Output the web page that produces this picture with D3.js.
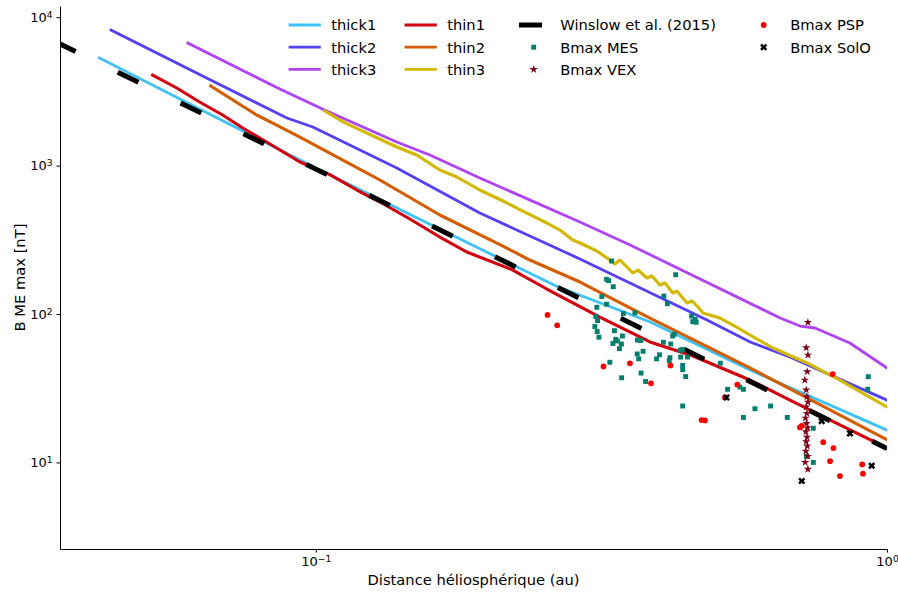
<!DOCTYPE html>
<html><head><meta charset="utf-8">
<script src="https://cdn.jsdelivr.net/npm/d3@7"></script>
<style>body{margin:0;background:#fff} text{font-family:"DejaVu Sans",sans-serif;fill:#000}</style>
</head><body><svg id="c" width="898" height="592"></svg>
<script>
// ---------- data (distance in au, field in nT) ----------
const thick1R = [0.0418, 0.0626, 0.0938, 0.158, 0.264, 0.385, 0.576, 1.0];
const thick1B = [5311, 2407, 1091, 404, 154, 88.3, 41.9, 16.5];
const thick2R = [0.0438, 0.0626, 0.0890, 0.0988, 0.1386, 0.1937, 0.290, 0.484, 0.576, 0.676, 1.0];
const thick2B = [8197, 4111, 2094, 1820, 963, 479, 235, 91.1, 64.8, 51.3, 26.3];
const thick3R = [0.0597, 0.0865, 0.1045, 0.1386, 0.1584, 0.1937, 0.290, 0.355, 0.650, 0.704, 0.748, 0.861, 1.0];
const thick3B = [6700, 3282, 2333, 1442, 1179, 825, 417, 292, 94.0, 83.0, 80.5, 63.8, 43.3];
const thin1R = [0.0518, 0.0571, 0.0626, 0.0687, 0.0745, 0.0798, 0.0854, 0.0938, 0.1058, 0.1180, 0.1295, 0.1461, 0.1649, 0.1838, 0.2213, 0.2538, 0.3143, 0.3846, 0.4573, 0.5755, 0.6763, 0.8272, 1.0];
const thin1B = [4079, 3334, 2683, 2193, 1792, 1535, 1314, 1058, 870, 684.8, 568.5, 436.8, 330.2, 261.7, 197.9, 147.4, 95.4, 64.8, 52.1, 35.9, 26.3, 17.9, 12.5];
const thin2R = [0.0655, 0.0716, 0.0788, 0.0854, 0.0938, 0.1058, 0.1295, 0.1649, 0.2075, 0.2370, 0.2901, 0.3846, 0.5755, 0.7041, 1.0];
const thin2B = [3439, 2767, 2193, 1877, 1558, 1216, 800, 464.8, 300.9, 231.2, 164.3, 94.0, 43.3, 28.9, 14.2];
const thin3R = [0.1037, 0.1102, 0.1147, 0.1386, 0.1502, 0.1649, 0.1766, 0.1937, 0.2075, 0.2249, 0.2342, 0.2538, 0.2676, 0.2818, 0.2901, 0.3105, 0.3272, 0.3340, 0.3407, 0.3590, 0.3664, 0.3800, 0.3877, 0.4004, 0.4085, 0.4219, 0.4288, 0.4465, 0.4556, 0.4667, 0.4762, 0.5099, 0.5375, 0.5755, 0.6315, 0.7244, 0.8272, 1.0];
const thin3B = [2333, 2029, 1877, 1335, 1179, 934, 838, 685, 605, 518, 479, 410.5, 368.1, 315.2, 300.9, 265.8, 231.2, 217.3, 231.2, 188.9, 197.9, 174.8, 180.3, 156.8, 161.8, 138.5, 142.9, 118.6, 122.4, 111.5, 101.6, 94.0, 84.3, 72.2, 59.0, 46.8, 35.9, 23.6];
const winslowR = [0.0357, 0.1, 1.0];
const winslowB = [6600, 947, 12.4];

const mesR = [0.3295,0.3229,0.3256,0.3317,0.4266,0.3168,0.3229,0.3105,0.3092,0.3114,0.3080,0.3109,0.3131,0.3333,0.3456,0.3620,0.3442,0.3350,0.3313,0.3373,0.3428,0.3401,0.3272,0.3431,0.3656,0.3704,0.3653,0.3741,0.3675,0.3711,0.3779,0.4068,0.4126,0.4060,0.4182,0.3997,0.3950,0.4169,0.4157,0.4242,0.4215,0.4348,0.4383,0.4352,0.4474,0.4388,0.4389,0.4442,0.4388,0.4550,0.4570,0.4634,0.4616,0.5107,0.5260,0.5606,0.5527,0.5606,0.5872,0.6254,0.6690,0.7430,0.7228,0.7430,0.9274,0.9252];
const mesB = [227.6,171.3,167.6,152.8,184.0,131.2,116.4,111.0,96.2,90.4,82.4,76.2,69.8,77.2,100.8,101.6,71.1,67.5,63.3,65.8,62.8,58.4,47.3,37.2,66.8,66.3,53.8,56.1,49.9,40.0,35.1,132.2,117.3,64.5,62.8,53.1,49.9,50.8,48.5,73.1,71.1,57.0,57.6,51.3,51.3,45.1,42.2,37.9,24.0,96.9,88.8,88.0,92.1,46.6,31.1,31.1,32.2,20.1,23.0,24.0,20.1,17.0,11.0,10.0,37.8,31.1];
const vexR = [0.727, 0.722, 0.727, 0.725, 0.718, 0.722, 0.724, 0.727, 0.722, 0.724, 0.720, 0.723, 0.726, 0.721, 0.724, 0.722, 0.725, 0.721, 0.727, 0.719, 0.727];
const vexB = [87.9, 59.3, 52.9, 40.9, 35.9, 30.8, 27.7, 25.5, 23.7, 21.4, 19.9, 18.3, 17.1, 16.1, 14.8, 13.8, 12.9, 11.9, 11.0, 10.0, 9.0];
const pspR = [0.2545, 0.2646, 0.3189, 0.3548, 0.3862, 0.4177, 0.4737, 0.4800, 0.5469, 0.5203, 0.7041, 0.7091, 0.7733, 0.8058, 0.7949, 0.8272, 0.9048, 0.9078, 0.8033];
const pspB = [98.5, 83.9, 44.3, 46.5, 34.1, 45.0, 19.3, 19.2, 33.5, 27.4, 17.2, 17.6, 13.7, 12.5, 10.2, 8.1, 9.7, 8.4, 39.4];
const soloR = [0.5235, 0.7091, 0.9401, 0.7686, 0.8614];
const soloB = [27.4, 7.5, 9.5, 19.0, 15.7];

const xTicks = [0.1, 1];
const xTickExp = ["\u22121", "0"];
const yTicks = [10, 100, 1000, 10000];
const yTickExp = ["1", "2", "3", "4"];
const xLabel = "Distance héliosphérique (au)";
const yLabel = "B ME max [nT]";

// ---------- setup ----------
const svg = d3.select("#c");
const L = 60, R = 887, T = 6, B = 549;
const x = d3.scaleLog().domain([0.03566, 1]).range([L, R]);
const y = d3.scaleLog().domain([2.61, 11900]).range([B, T]);

svg.append("defs").append("clipPath").attr("id", "clip")
  .append("rect").attr("x", L).attr("y", T).attr("width", R - L).attr("height", B - T);

const lines = [
  {name: "thick1", r: thick1R, b: thick1B, color: "#3fc3f7", w: 2.8},
  {name: "thick2", r: thick2R, b: thick2B, color: "#5440f5", w: 2.8},
  {name: "thick3", r: thick3R, b: thick3B, color: "#b044f2", w: 2.8},
  {name: "thin1", r: thin1R, b: thin1B, color: "#d2000f", w: 3.1},
  {name: "thin2", r: thin2R, b: thin2B, color: "#d45d00", w: 3.1},
  {name: "thin3", r: thin3R, b: thin3B, color: "#d4b800", w: 3.1}
];
const scat = [
  {name: "Bmax MES", r: mesR, b: mesB, color: "#007f6d", sym: d3.symbolSquare, size: 24, rot: 0},
  {name: "Bmax VEX", r: vexR, b: vexB, color: "#7f0018", sym: d3.symbolStar, size: 22, rot: 0},
  {name: "Bmax PSP", r: pspR, b: pspB, color: "#ff0000", sym: d3.symbolCircle, size: 26, rot: 0},
  {name: "Bmax SolO", r: soloR, b: soloB, color: "#000000", sym: d3.symbolCross, size: 32, rot: 45}
];

const g = svg.append("g").attr("clip-path", "url(#clip)");
const lineGen = d3.line().x(d => x(d[0])).y(d => y(d[1]));

lines.forEach(s => {
  g.append("path").datum(d3.zip(s.r, s.b)).attr("d", lineGen)
    .attr("fill", "none").attr("stroke", s.color).attr("stroke-width", s.w)
    .attr("stroke-linejoin", "round").attr("stroke-linecap", "square");
});
g.append("path").datum(d3.zip(winslowR, winslowB)).attr("d", lineGen)
  .attr("fill", "none").attr("stroke", "#000").attr("stroke-width", 5)
  .attr("stroke-dasharray", "23,47").attr("stroke-dashoffset", 6);

scat.forEach(s => {
  const sym = d3.symbol().type(s.sym).size(s.size);
  g.selectAll(null).data(d3.zip(s.r, s.b)).enter().append("path")
    .attr("d", sym)
    .attr("transform", d => `translate(${x(d[0])},${y(d[1])}) rotate(${s.rot})`)
    .attr("fill", s.color);
});

// ---------- axes ----------
function sup(sel, exps, vals) {
  sel.selectAll(".tick text").each(function(d) {
    const t = d3.select(this);
    const i = vals.indexOf(d);
    t.text(null);
    t.append("tspan").text("10");
    t.append("tspan").attr("dy", "-0.45em").attr("font-size", "0.7em").text(exps[i]);
  });
}
const ax = svg.append("g").attr("transform", `translate(0,${B})`)
  .call(d3.axisBottom(x).tickValues(xTicks).tickSizeInner(3.5).tickSizeOuter(0).tickPadding(4));
sup(ax, xTickExp, xTicks);
const ay = svg.append("g").attr("transform", `translate(${L},0)`)
  .call(d3.axisLeft(y).tickValues(yTicks).tickSizeInner(3.5).tickSizeOuter(0).tickPadding(4));
sup(ay, yTickExp, yTicks);
[ax, ay].forEach(a => {
  a.selectAll("text").attr("font-size", 13).attr("font-family", "DejaVu Sans").attr("fill", "#000");
  a.select(".domain").attr("stroke", "#000").attr("stroke-width", 1);
  a.selectAll(".tick line").attr("stroke", "#000").attr("stroke-width", 1);
});

svg.append("text").attr("x", (L + R) / 2).attr("y", 585).attr("text-anchor", "middle")
  .attr("font-size", 14.7).text(xLabel);
svg.append("text").attr("transform", `translate(25,${(T + B) / 2}) rotate(-90)`)
  .attr("text-anchor", "middle").attr("font-size", 14.7).text(yLabel);

// ---------- legend ----------
const legItems = lines.map(s => ({name: s.name, type: "line", color: s.color}))
  .concat([{name: "Winslow et al. (2015)", type: "dash", color: "#000"}])
  .concat(scat.map(s => ({name: s.name, type: "sym", s})));
const colX = [290, 406, 519, 749];
const rowY = [25, 47.2, 69.4];
const hl = 29.4;
legItems.forEach((it, i) => {
  const c = Math.floor(i / 3), r = i % 3;
  const x0 = colX[c], yc = rowY[r];
  if (it.type === "line") {
    svg.append("line").attr("x1", x0).attr("x2", x0 + hl).attr("y1", yc).attr("y2", yc)
      .attr("stroke", it.color).attr("stroke-width", 2.8).attr("stroke-linecap", "square");
  } else if (it.type === "dash") {
    svg.append("line").attr("x1", x0).attr("x2", x0 + hl).attr("y1", yc).attr("y2", yc)
      .attr("stroke", "#000").attr("stroke-width", 5).attr("stroke-dasharray", "23,47");
  } else {
    svg.append("path").attr("d", d3.symbol().type(it.s.sym).size(it.s.size))
      .attr("transform", `translate(${x0 + hl / 2},${yc}) rotate(${it.s.rot})`).attr("fill", it.s.color);
  }
  svg.append("text").attr("x", x0 + hl + 11.8).attr("y", yc + 5.3)
    .attr("font-size", 14.7).text(it.name);
});
</script></body></html>
